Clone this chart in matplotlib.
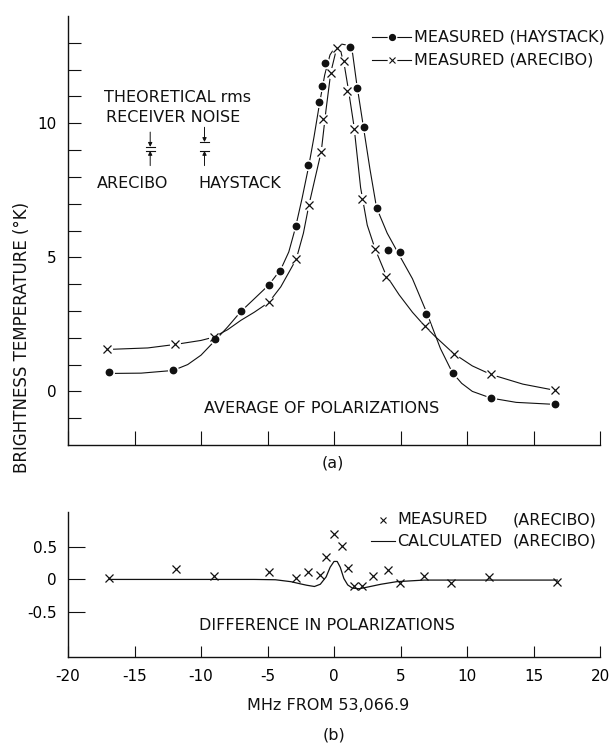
import matplotlib
matplotlib.use("Agg")
import matplotlib.pyplot as plt
from matplotlib.lines import Line2D

plt.rcParams["font.family"] = ["DejaVu Sans"]
plt.rcParams["axes.unicode_minus"] = False

# ---------------- data ----------------
# (a) average of polarizations, measured points
hay_x = [-16.88, -12.07, -8.93, -6.98, -4.90, -4.05, -2.89, -1.94, -1.14, -0.89,
         -0.64, 1.17, 1.71, 2.24, 3.22, 4.05, 4.98, 6.93, 8.93, 11.82, 16.65]
hay_y = [0.74, 0.81, 1.94, 2.99, 3.97, 4.49, 6.16, 8.44, 10.79, 11.40,
         12.23, 12.86, 11.30, 9.85, 6.83, 5.27, 5.21, 2.89, 0.70, -0.24, -0.48]

are_x = [-17.05, -11.94, -9.06, -4.90, -2.84, -1.89, -0.96, -0.79, -0.24, 0.21,
         0.74, 0.96, 1.54, 2.12, 3.12, 3.92, 6.82, 9.03, 11.82, 16.65]
are_y = [1.57, 1.75, 2.02, 3.32, 4.93, 6.94, 8.94, 10.17, 11.87, 12.80,
         12.33, 11.22, 9.77, 7.19, 5.32, 4.27, 2.42, 1.41, 0.64, 0.05]

# hand-drawn curves through the measured points
hay_curve_x = [-16.6, -14.5, -12.1, -11.0, -10.0, -8.9, -8.0, -7.0, -6.0, -4.9,
               -4.0, -3.4, -2.9, -2.4, -1.9, -1.5, -1.1, -0.7, -0.3, 0.1,
               0.6, 1.1, 1.4, 1.7, 2.2, 2.7, 3.2, 4.0, 5.0, 5.9,
               7.0, 8.0, 8.9, 9.6, 10.4, 11.8, 13.7, 16.4]
hay_curve_y = [0.67, 0.68, 0.78, 1.00, 1.35, 1.92, 2.40, 2.98, 3.45, 3.97,
               4.55, 5.20, 6.10, 7.20, 8.40, 9.50, 10.70, 11.80, 12.55, 12.85,
               12.95, 12.90, 12.60, 11.50, 9.90, 8.30, 6.85, 5.90, 5.00, 4.20,
               2.90, 1.60, 0.70, 0.30, 0.00, -0.25, -0.41, -0.48]

are_curve_x = [-16.7, -14.0, -11.94, -10.0, -9.06, -8.0, -7.0, -6.0, -4.9, -4.0,
               -2.84, -2.3, -1.89, -1.4, -0.96, -0.6, -0.24, 0.2, 0.5, 0.8,
               1.1, 1.5, 2.0, 2.5, 3.1, 3.9, 4.9, 5.9, 6.8, 7.6,
               9.0, 10.4, 11.8, 14.2, 16.4]
are_curve_y = [1.57, 1.62, 1.75, 1.90, 2.02, 2.30, 2.65, 2.95, 3.32, 3.90,
               4.93, 5.90, 6.94, 8.00, 8.94, 10.50, 11.90, 12.80, 12.70, 12.10,
               11.20, 9.90, 7.60, 6.20, 5.30, 4.35, 3.60, 2.95, 2.45, 2.05,
               1.41, 0.95, 0.63, 0.27, 0.06]

# theoretical rms receiver noise (K)
noise_labels = ["ARECIBO", "HAYSTACK"]
noise_rms = [0.15, 0.33]

# (b) difference in polarizations
diff_x = [-16.94, -11.87, -9.04, -4.92, -2.86, -1.97, -1.09, -0.59, 0.00, 0.59,
          1.03, 1.47, 2.12, 2.95, 4.04, 4.95, 6.77, 8.78, 11.69, 16.79]
diff_y = [0.03, 0.165, 0.05, 0.115, 0.025, 0.11, 0.065, 0.35, 0.715, 0.515,
          0.18, -0.10, -0.10, 0.05, 0.15, -0.06, 0.05, -0.06, 0.04, -0.035]

calc_x = [-16.94, -10.0, -6.0, -4.4, -3.24, -2.5, -2.06, -1.47, -1.03, -0.59,
          -0.29, 0.0, 0.24, 0.47, 0.74, 1.03, 1.38, 1.91, 2.5, 3.53,
          4.71, 6.77, 8.84, 11.78, 16.79]
calc_y = [0.0, 0.0, 0.0, -0.005, -0.035, -0.07, -0.09, -0.11, -0.075, 0.04,
          0.19, 0.28, 0.28, 0.19, 0.015, -0.085, -0.135, -0.145, -0.12, -0.075,
          -0.035, -0.01, -0.01, -0.01, -0.01]

x_ticks = [-20, -15, -10, -5, 0, 5, 10, 15, 20]
x_ticklabels = ["-20", "-15", "-10", "-5", "0", "5", "10", "15", "20"]
ya_ticks = [0, 5, 10]
yb_ticks = [0.5, 0, -0.5]
yb_ticklabels = ["0.5", "0", "-0.5"]

# ---------------- figure ----------------
W, H = 615, 744
fig = plt.figure(figsize=(W / 100, H / 100), dpi=100)
FS = 11.5
TFS = 11
INK = "#111111"


def fx(px):
    return px / W


def fy(py):
    return 1 - py / H


def style_axes(ax):
    for s in ("top", "right"):
        ax.spines[s].set_visible(False)
    for s in ("left", "bottom"):
        ax.spines[s].set_linewidth(1.0)
        ax.spines[s].set_color(INK)


# ---- panel (a)
ax1 = fig.add_axes([fx(68), fy(445), (600 - 68) / W, (445 - 16) / H])
style_axes(ax1)
ax1.set_xlim(-20, 20)
ax1.set_ylim(-2, 14)
ax1.set_xticks(x_ticks)
ax1.set_xticklabels([])
ax1.set_yticks(ya_ticks)
ax1.set_yticklabels([str(v) for v in ya_ticks], fontsize=TFS)
ax1.set_yticks([v for v in range(-1, 14) if v not in ya_ticks], minor=True)
ax1.tick_params(axis="x", direction="in", length=10, width=0.8, color=INK)
ax1.tick_params(axis="y", which="both", direction="in", length=9, width=0.8,
                pad=8, color=INK)

ax1.plot(hay_curve_x, hay_curve_y, color=INK, lw=0.8, zorder=2)
ax1.plot(are_curve_x, are_curve_y, color=INK, lw=0.8, zorder=2)
ax1.plot(hay_x, hay_y, "o", ms=8, color="white", mec="none", zorder=3)
ax1.plot(are_x, are_y, "o", ms=8, color="white", mec="none", zorder=3)
ax1.plot(hay_x, hay_y, "o", ms=4.6, color=INK, mec=INK, zorder=4)
ax1.plot(are_x, are_y, "x", ms=5.5, mew=0.9, color=INK, zorder=4)

ax1.text(-0.9, -0.65, "AVERAGE OF POLARIZATIONS", fontsize=FS, ha="center",
         va="center", color=INK)

# legend (a)
for py, mk, lab in [(37, "o", "MEASURED (HAYSTACK)"), (60, "x", "MEASURED (ARECIBO)")]:
    fig.add_artist(Line2D([fx(372), fx(411)], [fy(py), fy(py)], color=INK, lw=0.8,
                          transform=fig.transFigure))
    fig.add_artist(Line2D([fx(391.5)], [fy(py)], marker="o", ms=7, color="white",
                          mec="none", transform=fig.transFigure))
    if mk == "o":
        fig.add_artist(Line2D([fx(391.5)], [fy(py)], marker="o", ms=4.2, color=INK,
                              transform=fig.transFigure))
    else:
        fig.add_artist(Line2D([fx(391.5)], [fy(py)], marker="x", ms=4.5, mew=0.8,
                              color=INK, transform=fig.transFigure))
    fig.text(fx(414), fy(py), lab, fontsize=FS, ha="left", va="center", color=INK)

# theoretical rms noise indicator
fig.text(fx(104), fy(98), "THEORETICAL rms", fontsize=FS, ha="left", va="center", color=INK)
fig.text(fx(106), fy(117), "RECEIVER NOISE", fontsize=FS, ha="left", va="center", color=INK)
noise_xpx = [150.7, 205.0]
label_xpx = [133.0, 240.0]
base_y = 8.97
for xp, lxp, lab, rms in zip(noise_xpx, label_xpx, noise_labels, noise_rms):
    xd = (xp - 334.5) / 13.3
    half = 0.33
    lo, hi = base_y, base_y + rms
    ax1.plot([xd - half, xd + half], [lo, lo], color=INK, lw=0.8)
    ax1.plot([xd - half, xd + half], [hi, hi], color=INK, lw=0.8)
    ax1.annotate("", xy=(xd, hi), xytext=(xd, hi + 0.55),
                 arrowprops=dict(arrowstyle="-|>", lw=0.7, color=INK,
                                 mutation_scale=6, shrinkA=0, shrinkB=0))
    ax1.annotate("", xy=(xd, lo), xytext=(xd, lo - 0.55),
                 arrowprops=dict(arrowstyle="-|>", lw=0.7, color=INK,
                                 mutation_scale=6, shrinkA=0, shrinkB=0))
    fig.text(fx(lxp), fy(183), lab, fontsize=FS, ha="center", va="center", color=INK)

fig.text(fx(22), fy(337), "BRIGHTNESS TEMPERATURE (°K)", fontsize=12, rotation=90,
         ha="center", va="center", color=INK)
fig.text(fx(333), fy(463), "(a)", fontsize=FS, ha="center", va="center", color=INK)

# ---- panel (b)
ax2 = fig.add_axes([fx(68), fy(656.5), (600 - 68) / W, (656.5 - 512) / H])
style_axes(ax2)
ax2.set_xlim(-20, 20)
ax2.set_ylim(-1.2, 1.05)
ax2.set_xticks(x_ticks)
ax2.set_xticklabels(x_ticklabels, fontsize=TFS)
ax2.set_yticks(yb_ticks)
ax2.set_yticklabels(yb_ticklabels, fontsize=TFS)
ax2.tick_params(axis="x", direction="in", length=8, width=0.8, pad=9, color=INK)
ax2.tick_params(axis="y", direction="in", length=12, width=0.8, pad=8, color=INK)

ax2.plot(calc_x, calc_y, color=INK, lw=0.9, zorder=2)
ax2.plot(diff_x, diff_y, "x", ms=5.5, mew=0.9, color=INK, zorder=4)
ax2.text(-0.5, -0.71, "DIFFERENCE IN POLARIZATIONS", fontsize=FS, ha="center",
         va="center", color=INK)

# legend (b)
fig.add_artist(Line2D([fx(382.5)], [fy(520)], marker="x", ms=5, mew=0.8, color=INK,
                      transform=fig.transFigure))
fig.text(fx(397), fy(520), "MEASURED", fontsize=FS, ha="left", va="center", color=INK)
fig.text(fx(513), fy(520), "(ARECIBO)", fontsize=FS, ha="left", va="center", color=INK)
fig.add_artist(Line2D([fx(371), fx(395)], [fy(541), fy(541)], color=INK, lw=0.8,
                      transform=fig.transFigure))
fig.text(fx(397), fy(541), "CALCULATED", fontsize=FS, ha="left",
         va="center", color=INK)
fig.text(fx(513), fy(541), "(ARECIBO)", fontsize=FS, ha="left", va="center", color=INK)

fig.text(fx(328), fy(705), "MHz FROM 53,066.9", fontsize=FS, ha="center", va="center",
         color=INK)
fig.text(fx(334), fy(735), "(b)", fontsize=FS, ha="center", va="center", color=INK)

fig.savefig("out.png", dpi=100)
